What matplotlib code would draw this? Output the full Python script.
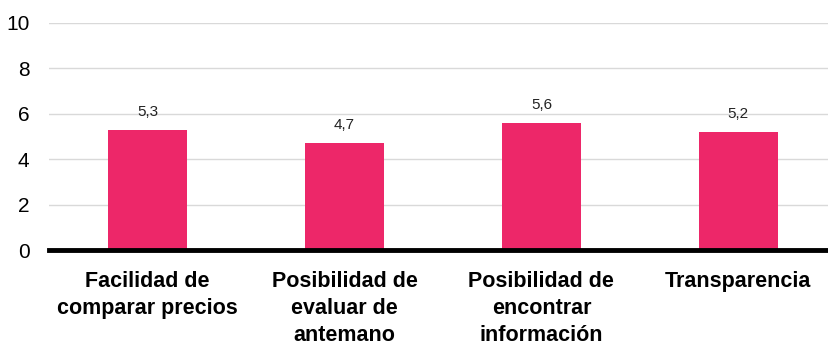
import numpy as np
import matplotlib.pyplot as plt

categories = ['Facilidad de\ncomparar precios', 'Posibilidad de\nevaluar de\nantemano',
              'Posibilidad de\nencontrar\ninformación', 'Transparencia']
values = [5.3, 4.7, 5.6, 5.2]
yticks = [0, 2, 4, 6, 8, 10]

plt.rcParams['font.family'] = ['Liberation Sans', 'DejaVu Sans']

fig = plt.figure(figsize=(8.29, 3.47), dpi=100)
ax = fig.add_axes([49 / 829, 97 / 347, 780 / 829, 227 / 347])

x = np.arange(len(categories))
bars = ax.bar(x, values, width=0.405, color='#ED2769', zorder=3)

for xi, v in zip(x, values):
    ax.annotate(f'{v:.1f}'.replace('.', ','), (xi, v), xytext=(0, 8),
                textcoords='offset points', ha='center', va='bottom',
                fontsize=11, color='#222222')

ax.set_xlim(-0.5, 3.46)
ax.set_ylim(0, 10)
ax.set_yticks(yticks)
ax.set_yticklabels([str(t) for t in yticks], fontsize=15)
ax.set_xticks(x)
ax.set_xticklabels(categories, fontsize=15.5, fontweight='bold', linespacing=1.38, va='top')
ax.tick_params(axis='both', length=0)
ax.tick_params(axis='x', pad=15)
ax.tick_params(axis='y', pad=14)

ax.grid(axis='y', color='#d9d9d9', linewidth=1, zorder=0)
for s in ['top', 'right', 'left']:
    ax.spines[s].set_visible(False)
ax.spines['bottom'].set_linewidth(3.5)
ax.spines['bottom'].set_color('black')
ax.spines['bottom'].set_zorder(4)

fig.savefig('out.png', dpi=100)
